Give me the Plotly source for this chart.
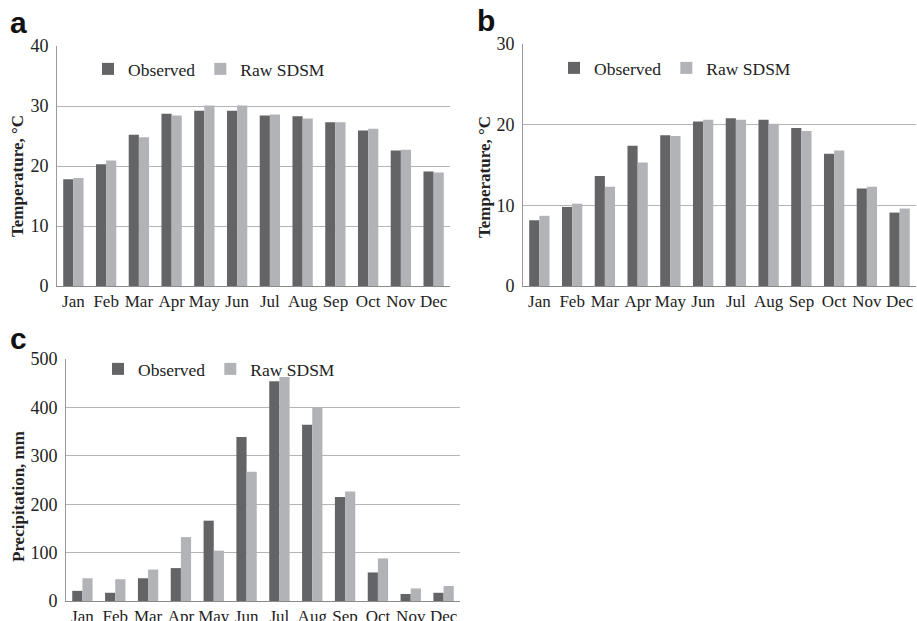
import plotly.graph_objects as go

months = ["Jan", "Feb", "Mar", "Apr", "May", "Jun", "Jul", "Aug", "Sep", "Oct", "Nov", "Dec"]

a_observed = [17.8, 20.3, 25.2, 28.7, 29.2, 29.2, 28.4, 28.3, 27.3, 25.9, 22.6, 19.1]
a_raw_sdsm = [18.0, 20.9, 24.8, 28.4, 30.1, 30.1, 28.6, 27.9, 27.3, 26.2, 22.7, 18.9]

b_observed = [8.15, 9.8, 13.65, 17.4, 18.7, 20.4, 20.8, 20.6, 19.6, 16.4, 12.1, 9.1]
b_raw_sdsm = [8.7, 10.2, 12.3, 15.3, 18.6, 20.6, 20.6, 20.1, 19.2, 16.8, 12.3, 9.6]

c_observed = [21, 17, 47, 68, 166, 339, 454, 364, 215, 59, 14.5, 17]
c_raw_sdsm = [47, 45, 65, 132, 104, 267, 463, 400, 226, 88, 26, 31]

dark = "#646467"
light = "#b2b3b6"
serif = "Liberation Serif, Times New Roman, serif"

W, H = 917, 621

def px_x(x):
    return x / W

def px_y(y):
    return 1 - y / H

panels = [
    dict(key="", obs=a_observed, raw=a_raw_sdsm, x=(57, 450), y=(46, 286), rng=40, dtick=10,
         title="Temperature, °C", tpos=(18, 176), legend="legend", leg=(88, 69), label="a", lab=(8, 22)),
    dict(key="2", obs=b_observed, raw=b_raw_sdsm, x=(523, 916), y=(44, 286), rng=30, dtick=10,
         title="Temperature, °C", tpos=(485, 177), legend="legend2", leg=(554, 68), label="b", lab=(475, 20)),
    dict(key="3", obs=c_observed, raw=c_raw_sdsm, x=(66, 460), y=(359, 601), rng=500, dtick=100,
         title="Precipitation, mm", tpos=(18, 497), legend="legend3", leg=(98, 369), label="c", lab=(8, 338)),
]

fig = go.Figure()
layout = dict(
    width=W, height=H, margin=dict(l=0, r=0, t=0, b=0, autoexpand=False),
    paper_bgcolor="white", plot_bgcolor="white",
    barmode="group", bargap=0.38, bargroupgap=0,
    font=dict(family=serif, size=17, color="#222"),
    annotations=[],
)

for p in panels:
    xa = "x" + p["key"]
    ya = "y" + p["key"]
    fig.add_trace(go.Bar(x=months, y=p["obs"], name="Observed", marker=dict(color=dark, line=dict(width=0)),
                         xaxis=xa, yaxis=ya, legend=p["legend"]))
    fig.add_trace(go.Bar(x=months, y=p["raw"], name="Raw SDSM", marker=dict(color=light, line=dict(width=0)),
                         xaxis=xa, yaxis=ya, legend=p["legend"]))
    layout["xaxis" + p["key"]] = dict(
        domain=[px_x(p["x"][0]), px_x(p["x"][1])], anchor=ya, automargin=False,
        showline=True, linecolor="#8a8a8a", linewidth=1, showgrid=False,
        ticks="", tickfont=dict(family=serif, size=17, color="#222"), fixedrange=True,
    )
    layout["yaxis" + p["key"]] = dict(
        domain=[px_y(p["y"][1]), px_y(p["y"][0])], anchor=xa, automargin=False,
        range=[0, p["rng"]], dtick=p["dtick"],
        showline=True, linecolor="#9a9a9a", linewidth=1,
        showgrid=True, gridcolor="#b4b4b4", gridwidth=1, zeroline=False,
        ticks="", ticklabelstandoff=4, fixedrange=True,
        tickfont=dict(family=serif, size=18, color="#222"),
    )
    layout[p["legend"]] = dict(
        orientation="h", x=px_x(p["leg"][0]), y=px_y(p["leg"][1]),
        xanchor="left", yanchor="middle", bgcolor="rgba(0,0,0,0)",
        font=dict(family=serif, size=17.5, color="#222"), itemwidth=30,
        tracegroupgap=0,
    )
    layout["annotations"].append(dict(
        text="<b>" + p["title"] + "</b>", x=px_x(p["tpos"][0]), y=px_y(p["tpos"][1]),
        xref="paper", yref="paper", xanchor="center", yanchor="middle", showarrow=False,
        textangle=-90, font=dict(family=serif, size=17, color="#222"),
    ))
    layout["annotations"].append(dict(
        text="<b>" + p["label"] + "</b>", x=px_x(p["lab"][0]), y=px_y(p["lab"][1]),
        xref="paper", yref="paper", xanchor="left", yanchor="middle", showarrow=False,
        font=dict(family="Liberation Sans, Arial, sans-serif", size=30, color="#111"),
    ))

fig.update_layout(**layout)
fig.write_html("out.html", config={"displayModeBar": False},
               post_script="document.body.style.margin='0px';")
